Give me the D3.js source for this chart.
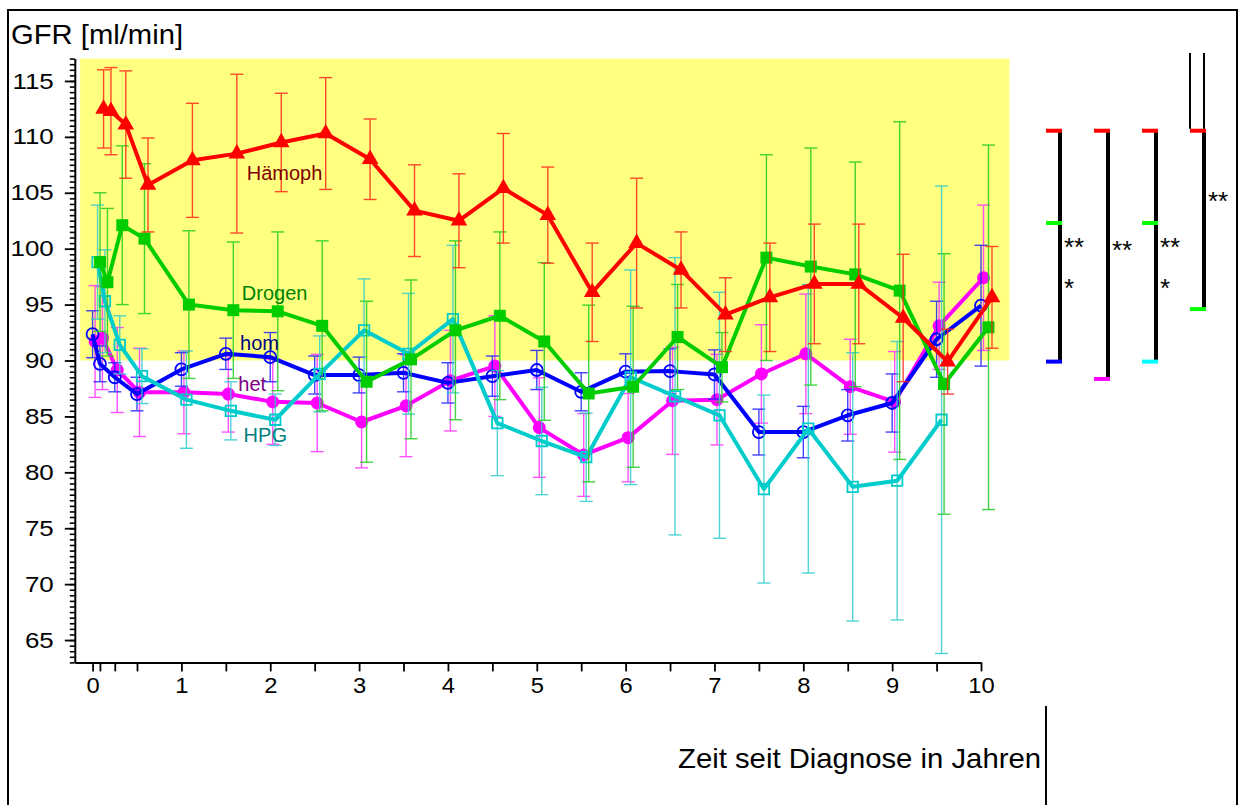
<!DOCTYPE html>
<html><head><meta charset="utf-8">
<script src="https://cdn.jsdelivr.net/npm/d3@7"></script>
<style>body{margin:0;background:#fff}svg{display:block;font-family:Arial,"Liberation Sans",sans-serif}</style>
</head><body><svg id="c" width="1238" height="805"></svg>
<script>
// ---------- data ----------
const xs = [0, 0.083, 0.25, 0.5, 1, 1.5, 2, 2.5, 3, 3.5, 4, 4.5, 5, 5.5, 6, 6.5, 7, 7.5, 8, 8.5, 9, 9.5, 10];
const xTickLabels = [0, 1, 2, 3, 4, 5, 6, 7, 8, 9, 10];
const yTickLabels = [65, 70, 75, 80, 85, 90, 95, 100, 105, 110, 115];

const haemophMean = [112.5,112.3,111.1,105.7,107.9,108.5,109.5,110.3,108.0,103.4,102.5,105.4,103.0,96.1,100.5,98.1,94.1,95.65,96.85,96.85,93.8,89.9,95.65];
const haemophErr  = [3.5,3.9,4.8,4.2,5.1,7.1,4.4,5.0,3.6,4.1,4.2,4.9,4.3,4.4,5.8,3.4,3.3,4.85,5.35,5.35,5.7,2.9,4.55];
const drogenMean  = [98.8,97.0,102.1,100.9,95.0,94.5,94.4,93.1,88.1,90.1,92.7,94.0,91.7,87.05,87.65,92.1,89.4,99.2,98.4,97.7,96.25,87.9,92.97];
const drogenErr   = [6.2,6.6,7.1,6.7,6.6,6.1,7.1,7.6,7.2,7.1,8.0,7.5,7.05,7.9,7.2,4.7,3.1,9.2,10.6,10.05,15.1,11.65,16.3];
const homMean     = [92.35,89.7,88.5,87.0,89.2,90.6,90.3,88.7,88.7,88.9,88.0,88.6,89.15,87.2,89.0,89.05,88.75,83.6,83.6,85.1,86.2,91.9,94.9];
const homErr      = [2.1,1.6,1.3,1.5,1.5,1.4,2.2,1.7,1.6,1.7,1.8,1.8,1.75,1.7,1.6,2.0,2.2,2.05,2.3,2.3,2.6,3.4,5.4];
const hetMean     = [91.7,92.0,89.15,87.15,87.15,87.0,86.3,86.2,84.5,85.95,88.2,89.5,84.0,81.55,83.1,86.4,86.5,88.8,90.6,87.65,86.3,93.1,97.4];
const hetErr      = [5.0,4.6,3.8,3.95,3.7,3.4,3.8,4.35,4.1,4.55,4.5,4.5,4.45,3.7,3.95,4.8,4.05,4.4,5.35,4.25,4.5,3.9,6.5];
const hpgMean     = [98.8,95.3,91.4,88.6,86.5,85.5,84.7,88.8,92.7,90.6,93.7,84.4,82.8,81.35,88.5,86.8,85.1,78.5,83.9,78.7,79.25,84.7];
const hpgErr      = [5.1,4.6,2.6,2.45,4.35,2.6,2.3,3.4,4.6,5.4,6.6,4.7,4.8,3.95,9.6,12.4,11.0,8.4,12.9,12.0,12.45,20.9];

const seriesNames = ["het", "hom", "HPG", "Drogen", "Hämoph"];
// label anchor positions (data units)
const labelX = [1.64, 1.66, 1.70, 1.68, 1.735];
const labelY = [87.3, 90.94, 82.74, 95.4, 106.1];

const bandX = [-0.14, 10.32];
const bandY = [90, 117];

// significance brackets: levels (values) and cap colours
const bracketLevels = [[110.55, 102.3, 89.9], [110.55, 88.35], [110.55, 102.3, 89.9], [110.55, 94.6]];
const bracketColors = [["#ff0000","#00ff00","#0000ff"], ["#ff0000","#ff00ff"], ["#ff0000","#00ff00","#00ffff"], ["#ff0000","#00ff00"]];
const bracketStars  = [["**","*"], ["**"], ["**","*"], ["**"]];
const bracketStarY  = [[100.6, 96.9], [100.3], [100.6, 96.9], [104.7]];

// ---------- layout ----------
const svg = d3.select('#c');
const x = d3.scaleLinear().domain([-0.2, 10]).range([74.8, 981]);
const y = d3.scaleLinear().domain([63, 117]).range([662.4, 58.6]);

function widen(sel, f) {
  sel.each(function () {
    const w = this.getComputedTextLength();
    if (w > 0) d3.select(this).attr('textLength', w * f).attr('lengthAdjust', 'spacingAndGlyphs');
  });
}

// frame
svg.append('rect').attr('x', 8).attr('y', 10).attr('width', 1229).attr('height', 820)
  .attr('fill', 'none').attr('stroke', '#000').attr('stroke-width', 2);

// band
svg.append('rect')
  .attr('x', x(bandX[0])).attr('y', y(bandY[1]))
  .attr('width', x(bandX[1]) - x(bandX[0])).attr('height', y(bandY[0]) - y(bandY[1]))
  .attr('fill', '#ffff80');

// y axis
const yMinor = svg.append('g').attr('transform', 'translate(74.8,0)')
  .call(d3.axisLeft(y).tickValues(d3.range(63, 117.01, 0.5)).tickSize(5).tickSizeOuter(0).tickFormat(''));
yMinor.select('.domain').attr('stroke-width', 2);
yMinor.selectAll('.tick line').attr('stroke-width', 1.6);
const yMajor = svg.append('g').attr('transform', 'translate(74.8,0)')
  .call(d3.axisLeft(y).tickValues(yTickLabels).tickSize(10).tickPadding(11).tickSizeOuter(0));
yMajor.select('.domain').remove();
yMajor.selectAll('.tick line').attr('stroke-width', 1.8);
yMajor.selectAll('text').attr('font-size', 22).attr('font-family', 'Arial, "Liberation Sans", sans-serif').attr('fill', '#000');
widen(yMajor.selectAll('text'), 1.18);

// x axis
const xAx = svg.append('g').attr('transform', `translate(0,${y(63)})`)
  .call(d3.axisBottom(x).tickValues(xs).tickSize(9).tickPadding(6).tickSizeOuter(0)
    .tickFormat(d => xTickLabels.includes(d) ? d : ''));
xAx.select('.domain').attr('stroke-width', 2);
xAx.selectAll('.tick line').attr('stroke-width', 1.8);
xAx.selectAll('text').attr('font-size', 22).attr('font-family', 'Arial, "Liberation Sans", sans-serif').attr('fill', '#000');
widen(xAx.selectAll('text'), 1.08);

// titles
const t1 = svg.append('text').attr('x', 11).attr('y', 44).attr('font-size', 28).text('GFR [ml/min]');
t1.attr('textLength', 172).attr('lengthAdjust', 'spacingAndGlyphs');
const t2 = svg.append('text').attr('x', 1041).attr('y', 768).attr('text-anchor', 'end').attr('font-size', 28)
  .text('Zeit seit Diagnose in Jahren');
t2.attr('textLength', 363).attr('lengthAdjust', 'spacingAndGlyphs');
svg.append('line').attr('x1', 1046).attr('x2', 1046).attr('y1', 706).attr('y2', 805)
  .attr('stroke', '#000').attr('stroke-width', 2);

// ---------- series ----------
const series = [
  {name: seriesNames[0], mean: hetMean, err: hetErr, color: '#ff00ff', text: '#800080', dx: 2.5, sym: 'fcircle'},
  {name: seriesNames[1], mean: homMean, err: homErr, color: '#0000ff', text: '#000080', dx: 0, sym: 'ocircle'},
  {name: seriesNames[2], mean: hpgMean, err: hpgErr, color: '#00cccc', text: '#008080', dx: 5, sym: 'osquare'},
  {name: seriesNames[3], mean: drogenMean, err: drogenErr, color: '#00cc00', text: '#008000', dx: 7.5, sym: 'fsquare'},
  {name: seriesNames[4], mean: haemophMean, err: haemophErr, color: '#ff0000', text: '#800000', dx: 11, sym: 'triangle'}
];
const errColors = {'#ff00ff': '#ff33ff', '#0000ff': '#2222ff', '#00cccc': '#33cccc', '#00cc00': '#22cc22', '#ff0000': '#ff2a1a'};

series.forEach((s, si) => {
  const pts = s.mean.map((m, i) => ({x: xs[i], m, e: s.err[i]}));
  const g = svg.append('g');
  const px = d => x(d.x) + s.dx;
  const ec = errColors[s.color];
  // error bars
  const eb = g.append('g').attr('stroke', ec).attr('stroke-width', 1.4).attr('opacity', 0.85);
  eb.selectAll('line.v').data(pts).join('line').attr('class', 'v')
    .attr('x1', px).attr('x2', px).attr('y1', d => y(d.m - d.e)).attr('y2', d => y(d.m + d.e));
  eb.selectAll('line.t').data(pts).join('line').attr('class', 't')
    .attr('x1', d => px(d) - 6.5).attr('x2', d => px(d) + 6.5).attr('y1', d => y(d.m + d.e)).attr('y2', d => y(d.m + d.e));
  eb.selectAll('line.b').data(pts).join('line').attr('class', 'b')
    .attr('x1', d => px(d) - 6.5).attr('x2', d => px(d) + 6.5).attr('y1', d => y(d.m - d.e)).attr('y2', d => y(d.m - d.e));
  // line
  g.append('path').datum(pts)
    .attr('d', d3.line().x(px).y(d => y(d.m)))
    .attr('fill', 'none').attr('stroke', s.color).attr('stroke-width', 4).attr('stroke-linejoin', 'round');
  // markers
  const mk = g.selectAll('path.m').data(pts).join('path').attr('class', 'm')
    .attr('transform', d => `translate(${px(d)},${y(d.m)})`);
  if (s.sym === 'triangle') {
    mk.attr('d', d3.symbol(d3.symbolTriangle, 120)).attr('fill', s.color);
  } else if (s.sym === 'fsquare') {
    mk.attr('d', d3.symbol(d3.symbolSquare, 144)).attr('fill', s.color);
  } else if (s.sym === 'osquare') {
    mk.attr('d', d3.symbol(d3.symbolSquare, 110)).attr('fill', 'none').attr('stroke', s.color).attr('stroke-width', 1.8);
  } else if (s.sym === 'ocircle') {
    mk.attr('d', d3.symbol(d3.symbolCircle, Math.PI * 36)).attr('fill', 'none').attr('stroke', s.color).attr('stroke-width', 1.8);
  } else {
    mk.attr('d', d3.symbol(d3.symbolCircle, Math.PI * 42)).attr('fill', s.color);
  }
});

// labels
series.forEach((s, si) => {
  svg.append('text').attr('x', x(labelX[si])).attr('y', y(labelY[si]))
    .attr('font-size', 20).attr('fill', s.text).text(s.name);
});

// ---------- brackets ----------
const bracketLineX = [1060, 1108, 1156, 1204];
bracketLevels.forEach((lv, bi) => {
  const lx = bracketLineX[bi];
  const g = svg.append('g');
  g.append('line').attr('x1', lx).attr('x2', lx)
    .attr('y1', y(lv[0])).attr('y2', y(lv[lv.length - 1]))
    .attr('stroke', '#000').attr('stroke-width', 4);
  lv.forEach((v, k) => {
    g.append('rect').attr('x', lx - 14).attr('y', y(v) - 2).attr('width', 16).attr('height', 4)
      .attr('fill', bracketColors[bi][k]);
  });
  bracketStars[bi].forEach((st, k) => {
    g.append('text').attr('x', lx + 4).attr('y', y(bracketStarY[bi][k]) + 14)
      .attr('font-size', 26).attr('fill', '#000').text(st);
  });
  if (bi === 3) {
    [lx - 14, lx].forEach(tx => {
      g.append('line').attr('x1', tx).attr('x2', tx).attr('y1', 53).attr('y2', y(lv[0]) - 2)
        .attr('stroke', '#000').attr('stroke-width', 2);
    });
  }
});
</script></body></html>
